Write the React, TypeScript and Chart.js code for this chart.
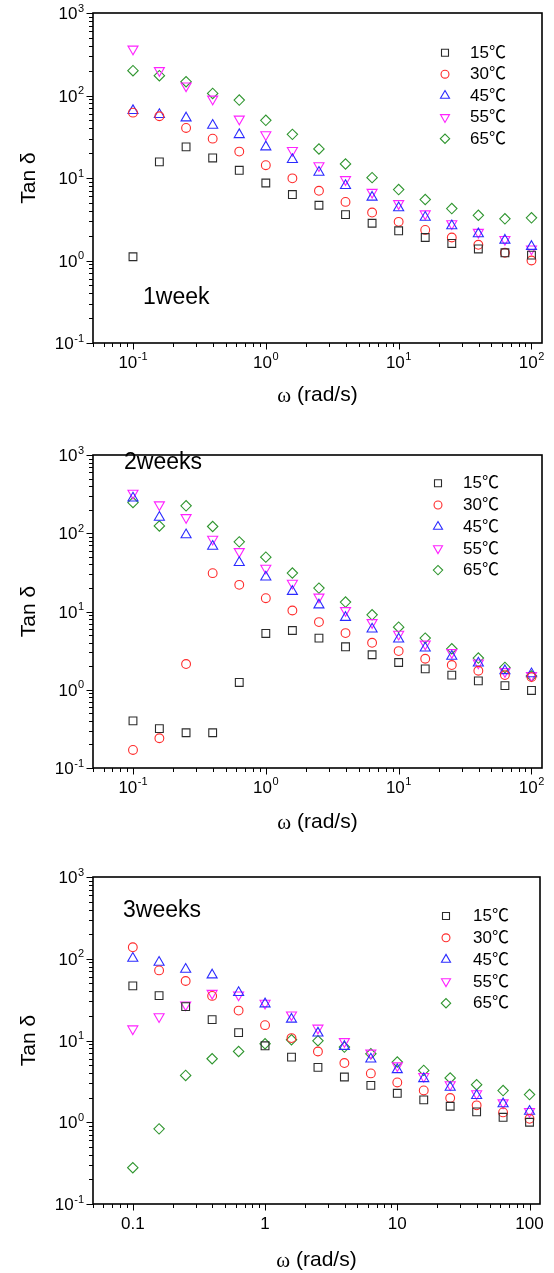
import React, { useEffect, useRef } from 'react';
import { Chart, registerables } from 'chart.js';
import { drawPoint } from 'chart.js/helpers';

Chart.register(...registerables);

// ---------- data ----------
const omega = [0.1, 0.158, 0.251, 0.398, 0.631, 1, 1.585, 2.512, 3.981, 6.31, 10, 15.85, 25.12, 39.81, 63.1, 100];
const seriesLabels = ['15℃', '30℃', '45℃', '55℃', '65℃'];
const panelLabels = ['1week', '2weeks', '3weeks'];

const w1_15 = [1.11, 15.7, 23.8, 17.5, 12.4, 8.7, 6.3, 4.67, 3.6, 2.83, 2.29, 1.9, 1.61, 1.38, 1.24, 1.16];
const w1_30 = [62, 56, 40.4, 30, 20.9, 14.3, 9.9, 7.0, 5.13, 3.81, 2.94, 2.35, 1.9, 1.55, 1.24, 1.0];
const w1_45 = [65.5, 58.6, 53.4, 43.5, 33.5, 23.8, 16.7, 11.7, 8.1, 5.84, 4.35, 3.34, 2.63, 2.1, 1.76, 1.48];
const w1_55 = [366, 201, 131, 90.7, 51.9, 33.5, 21.6, 14.1, 9.57, 6.71, 4.9, 3.68, 2.8, 2.2, 1.8, 1.38];
const w1_65 = [200, 174, 147, 106, 88, 50, 33.8, 22.5, 14.8, 10.1, 7.24, 5.48, 4.26, 3.53, 3.2, 3.29];

const w2_15 = [0.4, 0.318, 0.282, 0.282, 1.24, 5.24, 5.72, 4.57, 3.54, 2.8, 2.23, 1.85, 1.54, 1.3, 1.13, 0.98];
const w2_30 = [0.17, 0.24, 2.13, 30.9, 21.9, 14.8, 10.3, 7.32, 5.3, 3.98, 3.12, 2.49, 2.07, 1.75, 1.54, 1.45];
const w2_45 = [281, 160, 95.4, 68, 42.2, 27.5, 18, 12.1, 8.39, 5.96, 4.44, 3.41, 2.67, 2.19, 1.75, 1.6];
const w2_55 = [325, 231, 159, 84, 58.4, 35.8, 23, 15.3, 10.3, 7.24, 5.14, 3.84, 2.99, 2.2, 1.71, 1.52];
const w2_65 = [247, 124, 224, 122, 77.6, 49.5, 31, 19.9, 13.2, 9.07, 6.31, 4.57, 3.34, 2.54, 1.93, 1.5];

const w3_15 = [46.5, 35.4, 26, 18, 12.5, 8.61, 6.27, 4.69, 3.58, 2.83, 2.26, 1.88, 1.57, 1.34, 1.15, 1.0];
const w3_30 = [138, 72, 53.4, 35.1, 23.2, 15.4, 10.7, 7.34, 5.3, 3.96, 3.07, 2.45, 1.98, 1.61, 1.32, 1.1];
const w3_45 = [101, 90.4, 74.3, 63.3, 38.5, 28, 18.2, 12.3, 8.45, 5.93, 4.39, 3.41, 2.67, 2.12, 1.68, 1.36];
const w3_55 = [13.9, 19.6, 27.3, 37.8, 36.1, 28.6, 20.6, 14.2, 9.72, 7.02, 4.91, 3.64, 2.88, 2.24, 1.73, 1.36];
const w3_65 = [0.278, 0.83, 3.74, 5.98, 7.34, 9.12, 10.2, 9.92, 8.3, 6.88, 5.45, 4.31, 3.48, 2.88, 2.44, 2.18];

const xMin = 0.05;
const xMax = 120;
const yMin = 0.1;
const yMax = 1000;
const xTickValues = [0.1, 1, 10, 100];
const xTickExponents = ['-1', '0', '1', '2'];
const xTickPlainLabels = ['0.1', '1', '10', '100'];
const yTickValues = [0.1, 1, 10, 100, 1000];
const yTickExponents = ['-1', '0', '1', '2', '3'];
const yTitle = 'Tan δ';
const xTitleSymbol = 'ω';
const xTitleRest = ' (rad/s)';

// ---------- styles / layout ----------
const SANS = "'Liberation Sans', Arial, Helvetica, 'Noto Sans CJK SC', sans-serif";
const SERIF = "'Liberation Serif', 'Times New Roman', serif";
const PAGE_W = 554;

const seriesStyle = [
  { color: '#2b2b2b', pointStyle: 'rect', radius: 5.5, rotation: 0 },
  { color: '#ff2b2b', pointStyle: 'circle', radius: 4.4, rotation: 0 },
  { color: '#2b2bff', pointStyle: 'triangle', radius: 5.8, rotation: 0 },
  { color: '#ff22ff', pointStyle: 'triangle', radius: 5.8, rotation: 180 },
  { color: '#2e952e', pointStyle: 'rectRot', radius: 5.2, rotation: 0 },
];

const panels = [
  {
    series: [w1_15, w1_30, w1_45, w1_55, w1_65],
    label: panelLabels[0],
    canvasTop: 0, height: 420,
    area: { top: 13, bottom: 343, left: 93, right: 542 },
    legend: { symX: 445, textX: 470, y0: 52.7, step: 21.5 },
    labelPos: { x: 143, y: 298 },
    xTitleY: 395,
    expLabels: true,
  },
  {
    series: [w2_15, w2_30, w2_45, w2_55, w2_65],
    label: panelLabels[1],
    canvasTop: 420, height: 420,
    area: { top: 35, bottom: 348, left: 93, right: 542 },
    legend: { symX: 438, textX: 463, y0: 63.3, step: 21.7 },
    labelPos: { x: 124, y: 43 },
    xTitleY: 402,
    expLabels: true,
  },
  {
    series: [w3_15, w3_30, w3_45, w3_55, w3_65],
    label: panelLabels[2],
    canvasTop: 840, height: 433,
    area: { top: 37, bottom: 364, left: 93, right: 540 },
    legend: { symX: 446, textX: 473, y0: 76, step: 21.8 },
    labelPos: { x: 123, y: 71 },
    xTitleY: 420,
    expLabels: false,
  },
];

function minorValues(lo: number, hi: number, majors: number[]) {
  const out: number[] = [];
  for (let e = -3; e <= 3; e++) {
    for (let m = 1; m <= 9; m++) {
      const v = m * Math.pow(10, e);
      if (v >= lo * 0.999 && v <= hi * 1.001 && !majors.some((mv) => Math.abs(mv - v) / mv < 1e-6)) out.push(v);
    }
  }
  return out;
}

function drawPow(ctx: CanvasRenderingContext2D, exp: string, x: number, y: number, align: 'center' | 'right') {
  const baseFont = `17px ${SANS}`;
  const expFont = `11px ${SANS}`;
  ctx.font = baseFont;
  const wb = ctx.measureText('10').width;
  ctx.font = expFont;
  const we = ctx.measureText(exp).width;
  const total = wb + we + 0.5;
  const x0 = align === 'center' ? x - total / 2 : x - total;
  ctx.textAlign = 'left';
  ctx.textBaseline = 'middle';
  ctx.font = baseFont;
  ctx.fillText('10', x0, y);
  ctx.font = expFont;
  ctx.fillText(exp, x0 + wb + 0.5, y - 6);
}

function makeDecor(cfg: any) {
  return {
    id: 'decor',
    afterDraw(chart: any) {
      const ctx: CanvasRenderingContext2D = chart.ctx;
      const { left, right, top, bottom } = chart.chartArea;
      const xs = chart.scales.x;
      const ys = chart.scales.y;
      ctx.save();
      ctx.strokeStyle = '#000';
      ctx.fillStyle = '#000';

      // ticks
      ctx.lineWidth = 1;
      ctx.beginPath();
      const xMinor = minorValues(xMin, xMax, xTickValues);
      for (const v of xTickValues) {
        const px = Math.round(xs.getPixelForValue(v)) + 0.5;
        ctx.moveTo(px, bottom);
        ctx.lineTo(px, bottom + 6.5);
      }
      for (const v of xMinor) {
        const px = Math.round(xs.getPixelForValue(v)) + 0.5;
        ctx.moveTo(px, bottom);
        ctx.lineTo(px, bottom + 4);
      }
      const yMinor = minorValues(yMin, yMax, yTickValues);
      for (const v of yTickValues) {
        const py = Math.round(ys.getPixelForValue(v)) + 0.5;
        ctx.moveTo(left, py);
        ctx.lineTo(left - 6.5, py);
      }
      for (const v of yMinor) {
        const py = Math.round(ys.getPixelForValue(v)) + 0.5;
        ctx.moveTo(left, py);
        ctx.lineTo(left - 4, py);
      }
      ctx.stroke();

      // frame
      ctx.lineWidth = 1.6;
      ctx.strokeRect(left, top, right - left, bottom - top);

      // y tick labels
      yTickValues.forEach((v, i) => {
        const py = ys.getPixelForValue(v);
        drawPow(ctx, yTickExponents[i], left - 9, py + 1.5, 'right');
      });
      // x tick labels
      xTickValues.forEach((v, i) => {
        const px = xs.getPixelForValue(v);
        if (cfg.expLabels) {
          drawPow(ctx, xTickExponents[i], px, bottom + 20, 'center');
        } else {
          ctx.font = `17px ${SANS}`;
          ctx.textAlign = 'center';
          ctx.textBaseline = 'middle';
          ctx.fillText(xTickPlainLabels[i], px, bottom + 20);
        }
      });

      // x title
      ctx.textBaseline = 'middle';
      ctx.textAlign = 'left';
      ctx.font = `21px ${SERIF}`;
      const w1 = ctx.measureText(xTitleSymbol).width;
      ctx.font = `21px ${SANS}`;
      const w2 = ctx.measureText(xTitleRest).width;
      const cx = (left + right) / 2;
      const sx = cx - (w1 + w2) / 2;
      ctx.font = `21px ${SERIF}`;
      ctx.fillText(xTitleSymbol, sx, cfg.xTitleY + 1);
      ctx.font = `21px ${SANS}`;
      ctx.fillText(xTitleRest, sx + w1, cfg.xTitleY);

      // y title
      ctx.save();
      ctx.translate(29, (top + bottom) / 2);
      ctx.rotate(-Math.PI / 2);
      ctx.textAlign = 'center';
      ctx.textBaseline = 'middle';
      ctx.font = `21px ${SANS}`;
      ctx.fillText(yTitle, 0, 0);
      ctx.restore();

      // panel label
      ctx.textAlign = 'left';
      ctx.textBaseline = 'middle';
      ctx.font = `23px ${SANS}`;
      ctx.fillText(cfg.label, cfg.labelPos.x, cfg.labelPos.y);

      // legend
      const lg = cfg.legend;
      seriesLabels.forEach((lab, i) => {
        const st = seriesStyle[i];
        const y = lg.y0 + i * lg.step;
        ctx.strokeStyle = st.color;
        ctx.fillStyle = 'rgba(0,0,0,0)';
        ctx.lineWidth = 1.1;
        drawPoint(ctx, { pointStyle: st.pointStyle as any, rotation: st.rotation, radius: st.radius * 0.9, borderWidth: 1.1 }, lg.symX, y);
        ctx.fillStyle = '#000';
        ctx.font = `17px ${SANS}`;
        ctx.textAlign = 'left';
        ctx.textBaseline = 'middle';
        ctx.fillText(lab, lg.textX, y + 0.5);
      });

      ctx.restore();
    },
  };
}

function Panel({ cfg }: { cfg: any }) {
  const ref = useRef<HTMLCanvasElement | null>(null);
  useEffect(() => {
    const canvas = ref.current;
    if (!canvas) return;
    const datasets = cfg.series.map((vals: number[], i: number) => {
      const st = seriesStyle[i];
      return {
        label: seriesLabels[i],
        data: omega.map((x, j) => ({ x, y: vals[j] })),
        showLine: false,
        pointStyle: st.pointStyle,
        pointRotation: st.rotation,
        pointRadius: st.radius,
        pointHoverRadius: st.radius,
        pointBorderWidth: 1.1,
        pointBorderColor: st.color,
        pointBackgroundColor: 'rgba(0,0,0,0)',
        borderColor: st.color,
        backgroundColor: 'rgba(0,0,0,0)',
        clip: false,
      };
    });
    const a = cfg.area;
    const chart = new Chart(canvas, {
      type: 'scatter',
      data: { datasets },
      options: {
        responsive: false,
        animation: false,
        devicePixelRatio: 1,
        layout: { padding: { top: a.top, right: PAGE_W - a.right, left: 0, bottom: 0 } },
        plugins: { legend: { display: false }, tooltip: { enabled: false } },
        events: [],
        scales: {
          x: {
            type: 'logarithmic',
            min: xMin,
            max: xMax,
            ticks: { display: false },
            grid: { display: false, drawTicks: false },
            border: { display: false },
            afterFit: (s: any) => { s.height = cfg.height - a.bottom; },
          },
          y: {
            type: 'logarithmic',
            min: yMin,
            max: yMax,
            ticks: { display: false },
            grid: { display: false, drawTicks: false },
            border: { display: false },
            afterFit: (s: any) => { s.width = a.left; },
          },
        },
      } as any,
      plugins: [makeDecor(cfg)],
    });
    return () => chart.destroy();
  }, [cfg]);
  return (
    <canvas
      ref={ref}
      width={PAGE_W}
      height={cfg.height}
      style={{ position: 'absolute', left: 0, top: cfg.canvasTop, width: PAGE_W, height: cfg.height, display: 'block' }}
    />
  );
}

export default function App() {
  return (
    <div style={{ position: 'absolute', left: 0, top: 0, width: PAGE_W, height: 1273, background: '#fff' }}>
      {panels.map((p, i) => (
        <Panel key={i} cfg={p} />
      ))}
    </div>
  );
}
